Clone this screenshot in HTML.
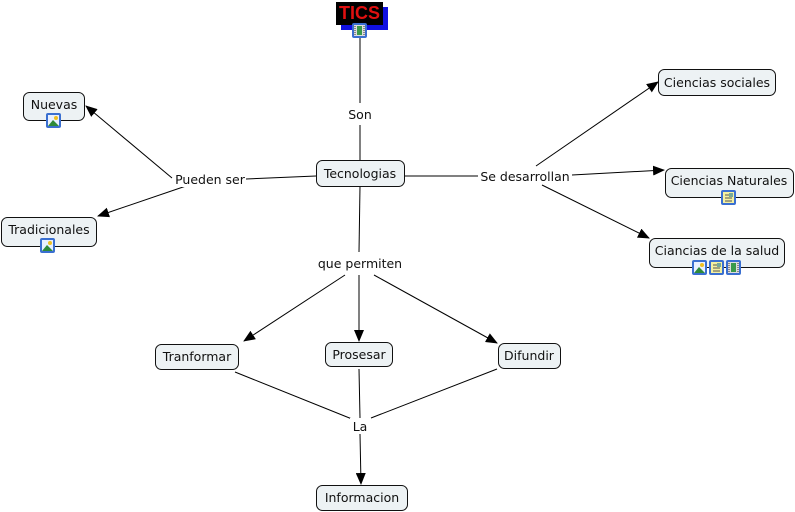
<!DOCTYPE html>
<html><head><meta charset="utf-8"><style>
html,body{margin:0;padding:0;background:#fff;width:795px;height:512px;overflow:hidden}
svg{display:block}
text{font-family:"DejaVu Sans","Liberation Sans",sans-serif;font-size:12.5px;fill:#111}
</style></head><body>
<svg width="795" height="512" viewBox="0 0 795 512" xmlns="http://www.w3.org/2000/svg">
<defs>
<marker id="a" markerWidth="12" markerHeight="10" refX="11" refY="5" orient="auto" markerUnits="userSpaceOnUse">
<path d="M0,0 L12,5 L0,10 z" fill="#000"/></marker>
<g id="img"><rect x="0" y="0" width="15" height="15" rx="2" fill="#3a6fd0"/><rect x="2" y="2" width="11" height="11" fill="#e8f0ff"/><path d="M2,13 L7,7 L13,13 z" fill="#2e8a3a"/><circle cx="10" cy="5" r="2" fill="#f0c020"/></g>
<g id="doc"><rect x="0" y="0" width="15" height="15" rx="2" fill="#3a6fd0"/><rect x="2" y="2" width="11" height="11" fill="#f4f0a0"/><path d="M4,5h7M4,8h7M4,11h7" stroke="#555" stroke-width="1"/><rect x="8" y="3" width="4" height="4" fill="#7a9"/></g>
<g id="vid"><rect x="0" y="0" width="15" height="15" rx="2" fill="#3a6fd0"/><rect x="2" y="2" width="11" height="11" fill="#ddd"/><rect x="5" y="3" width="5" height="9" fill="#3a9a4a"/><path d="M3,3v9M12,3v9" stroke="#333" stroke-dasharray="1,1"/></g>
</defs>
<g stroke="#000" stroke-width="1" fill="none">
<line x1="360" y1="38" x2="360" y2="103"/>
<line x1="360" y1="125" x2="360" y2="160"/>
<line x1="316" y1="176" x2="246" y2="179"/>
<line x1="172" y1="178" x2="86" y2="106" marker-end="url(#a)"/>
<line x1="186" y1="186" x2="98" y2="216" marker-end="url(#a)"/>
<line x1="404" y1="176" x2="478" y2="176"/>
<line x1="536" y1="166" x2="658" y2="82" marker-end="url(#a)"/>
<line x1="572" y1="175" x2="664" y2="170" marker-end="url(#a)"/>
<line x1="542" y1="185" x2="649" y2="238" marker-end="url(#a)"/>
<line x1="360" y1="186" x2="359" y2="252"/>
<line x1="345" y1="275" x2="244" y2="341" marker-end="url(#a)"/>
<line x1="359" y1="275" x2="359" y2="341" marker-end="url(#a)"/>
<line x1="374" y1="275" x2="497" y2="343" marker-end="url(#a)"/>
<line x1="235" y1="372" x2="352" y2="419"/>
<line x1="359" y1="369" x2="360" y2="418"/>
<line x1="497" y1="369" x2="371" y2="418"/>
<line x1="360" y1="434" x2="361" y2="484" marker-end="url(#a)"/>
</g>
<g fill="#fff">
<rect x="344" y="106" width="32" height="16"/>
<rect x="174" y="171" width="72" height="16"/>
<rect x="478" y="168" width="94" height="16"/>
<rect x="314" y="255" width="92" height="16"/>
<rect x="350" y="418" width="20" height="16"/>
</g>
<text x="360" y="119" text-anchor="middle">Son</text>
<text x="210" y="184" text-anchor="middle">Pueden ser</text>
<text x="525" y="181" text-anchor="middle">Se desarrollan</text>
<text x="360" y="268" text-anchor="middle">que permiten</text>
<text x="360" y="431" text-anchor="middle">La</text>
<rect x="341" y="7" width="47" height="23" fill="#1010e0"/>
<rect x="336" y="2" width="47" height="23" fill="#000"/>
<text x="359.5" y="19" text-anchor="middle" style="font-family:'Liberation Sans',sans-serif;font-weight:bold;font-size:18px;fill:#e01010">TICS</text>
<use href="#vid" x="352" y="23"/>
<g fill="#edf2f4" stroke="#111" stroke-width="1">
<rect x="23.5" y="92.5" width="61" height="28" rx="6"/>
<rect x="1.5" y="217.5" width="95" height="29" rx="6"/>
<rect x="316.5" y="160.5" width="88" height="26" rx="6"/>
<rect x="658.5" y="69.5" width="117" height="26" rx="6"/>
<rect x="665.5" y="168.5" width="128" height="29" rx="6"/>
<rect x="649.5" y="238.5" width="135" height="29" rx="6"/>
<rect x="155.5" y="344.5" width="83" height="25" rx="6"/>
<rect x="325.5" y="342.5" width="67" height="24" rx="6"/>
<rect x="498.5" y="343.5" width="62" height="25" rx="6"/>
<rect x="316.5" y="485.5" width="91" height="25" rx="6"/>
</g>
<text x="54" y="109" text-anchor="middle">Nuevas</text>
<use href="#img" x="46" y="113"/>
<text x="49" y="234" text-anchor="middle">Tradicionales</text>
<use href="#img" x="40" y="238"/>
<text x="360" y="178" text-anchor="middle">Tecnologias</text>
<text x="717" y="87" text-anchor="middle">Ciencias sociales</text>
<text x="729" y="185" text-anchor="middle">Ciencias Naturales</text>
<use href="#doc" x="721" y="190"/>
<text x="717" y="255" text-anchor="middle">Ciancias de la salud</text>
<use href="#img" x="692" y="260"/>
<use href="#doc" x="709" y="260"/>
<use href="#vid" x="726" y="260"/>
<text x="197" y="361" text-anchor="middle">Tranformar</text>
<text x="359" y="359" text-anchor="middle">Prosesar</text>
<text x="529" y="360" text-anchor="middle">Difundir</text>
<text x="362" y="502" text-anchor="middle">Informacion</text>
</svg>
</body></html>
